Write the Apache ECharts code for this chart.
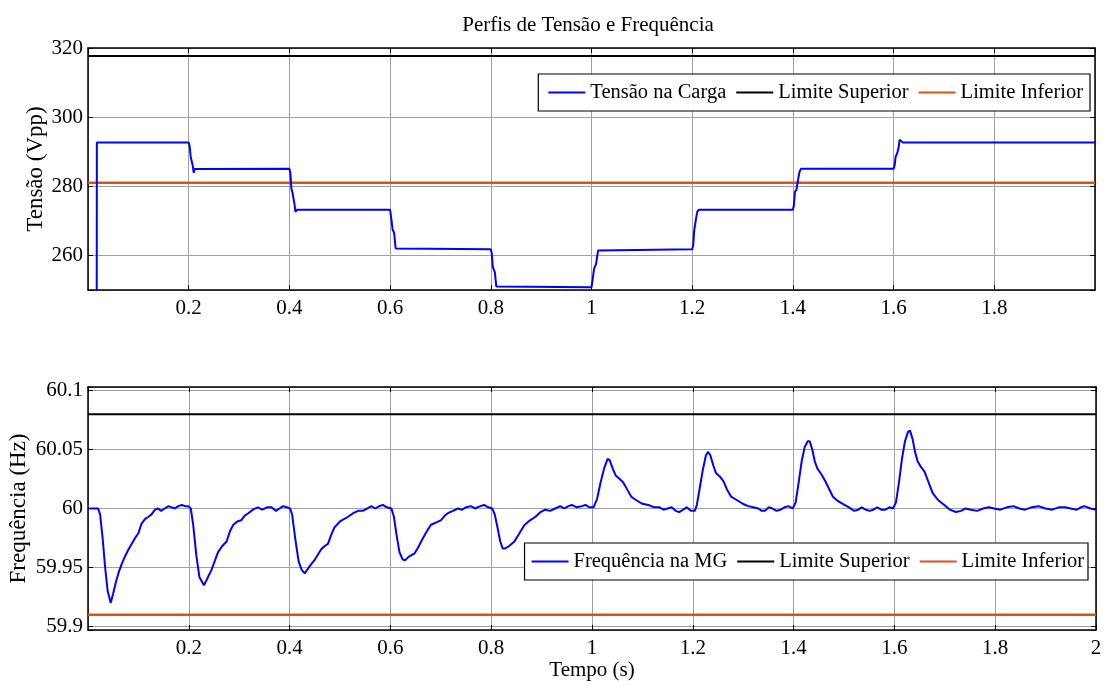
<!DOCTYPE html>
<html>
<head>
<meta charset="utf-8">
<script src="https://cdn.jsdelivr.net/npm/echarts@6/dist/echarts.min.js"></script>
<style>
  html, body { margin: 0; padding: 0; background: #fff; }
  #chart { width: 1106px; height: 686px; }
</style>
</head>
<body>
<div id="chart"></div>
<script>
// Load voltage at the bus, [time (s), Vpp]
const tensaoCarga = [
  [0.0172, 230], [0.0176, 292.7], [0.200, 292.7], [0.202, 291.5], [0.204, 288.5], [0.206, 288.0],
  [0.208, 286.0], [0.210, 283.9], [0.212, 285.0], [0.215, 285.1], [0.400, 285.1], [0.402, 283.7],
  [0.404, 279.3], [0.406, 278.2], [0.408, 277.9], [0.410, 275.0], [0.412, 272.6], [0.415, 273.2],
  [0.600, 273.2], [0.602, 271.1], [0.605, 267.5], [0.608, 266.5], [0.611, 262.0], [0.614, 261.8],
  [0.800, 261.8], [0.802, 260.5], [0.804, 256.6], [0.808, 255.2], [0.811, 251.0], [0.813, 250.8],
  [1.000, 250.8], [1.002, 252.7], [1.005, 256.1], [1.009, 257.5], [1.013, 261.4], [1.016, 261.8],
  [1.200, 261.8], [1.202, 263.0], [1.204, 267.2], [1.207, 270.1], [1.210, 272.6], [1.213, 273.2],
  [1.400, 273.2], [1.402, 274.5], [1.404, 278.4], [1.407, 279.0], [1.410, 281.7], [1.413, 284.1],
  [1.416, 285.1], [1.600, 285.1], [1.602, 286.0], [1.604, 288.5], [1.607, 289.5], [1.610, 291.2],
  [1.612, 293.5], [1.615, 293.8], [1.618, 292.7], [2.000, 292.7]
];

// Microgrid frequency, [time (s), Hz]
const frequenciaMG = [
  [0.003, 60.000], [0.020, 60.000], [0.024, 59.995], [0.029, 59.975], [0.034, 59.950], [0.039, 59.930],
  [0.045, 59.920], [0.050, 59.928], [0.055, 59.937], [0.061, 59.946], [0.067, 59.953], [0.074, 59.960],
  [0.080, 59.965], [0.088, 59.971], [0.095, 59.976], [0.100, 59.979], [0.106, 59.987], [0.113, 59.991],
  [0.120, 59.993], [0.126, 59.995], [0.133, 59.999], [0.139, 60.000], [0.145, 59.998], [0.152, 60.000],
  [0.160, 60.002], [0.166, 60.001], [0.172, 60.000], [0.179, 60.002], [0.186, 60.003], [0.193, 60.002],
  [0.199, 60.002], [0.204, 60.000],
  [0.209, 59.985], [0.215, 59.960], [0.221, 59.942], [0.230, 59.935], [0.236, 59.940], [0.245, 59.948],
  [0.252, 59.956], [0.258, 59.963], [0.266, 59.968], [0.275, 59.972], [0.282, 59.981], [0.288, 59.986],
  [0.296, 59.989], [0.304, 59.990], [0.311, 59.994], [0.318, 59.996], [0.327, 59.999], [0.337, 60.001],
  [0.346, 59.999], [0.355, 60.001], [0.364, 60.001], [0.373, 59.998], [0.380, 60.000], [0.387, 60.002],
  [0.394, 60.001], [0.401, 60.000],
  [0.405, 59.995], [0.411, 59.975], [0.418, 59.955], [0.424, 59.948], [0.430, 59.945], [0.438, 59.950],
  [0.449, 59.956], [0.462, 59.965], [0.469, 59.968], [0.476, 59.970], [0.483, 59.978], [0.489, 59.984],
  [0.500, 59.989], [0.516, 59.993], [0.526, 59.996], [0.536, 59.998], [0.545, 59.998], [0.554, 60.000],
  [0.562, 60.002], [0.570, 60.000], [0.578, 60.002], [0.585, 60.003], [0.593, 60.001], [0.602, 60.000],
  [0.607, 59.993], [0.612, 59.978], [0.618, 59.963], [0.624, 59.957], [0.629, 59.956], [0.636, 59.959],
  [0.648, 59.962], [0.655, 59.967], [0.661, 59.972], [0.670, 59.979], [0.680, 59.986], [0.690, 59.988],
  [0.700, 59.990], [0.708, 59.994], [0.714, 59.996], [0.724, 59.998], [0.734, 60.000], [0.742, 59.999],
  [0.750, 60.001], [0.760, 60.002], [0.768, 60.000], [0.778, 60.002], [0.786, 60.003], [0.794, 60.001],
  [0.802, 60.000],
  [0.807, 59.995], [0.812, 59.985], [0.818, 59.972], [0.823, 59.966], [0.827, 59.966], [0.835, 59.968],
  [0.846, 59.972], [0.856, 59.979], [0.866, 59.986], [0.877, 59.990], [0.888, 59.993], [0.898, 59.997],
  [0.907, 59.999], [0.917, 59.998], [0.927, 60.000], [0.937, 60.002], [0.945, 60.000], [0.953, 60.002],
  [0.960, 60.003], [0.970, 60.001], [0.980, 60.002], [0.987, 60.003], [0.995, 60.001], [1.003, 60.001],
  [1.010, 60.008], [1.017, 60.022], [1.024, 60.034], [1.031, 60.042], [1.035, 60.041], [1.041, 60.034],
  [1.047, 60.028], [1.055, 60.025], [1.062, 60.022], [1.070, 60.016], [1.078, 60.010], [1.088, 60.007],
  [1.100, 60.004], [1.112, 60.003], [1.124, 60.001], [1.134, 60.001], [1.142, 59.999], [1.150, 60.000],
  [1.158, 60.001], [1.166, 59.998], [1.173, 59.997], [1.181, 59.999], [1.188, 60.001], [1.196, 59.998],
  [1.204, 59.998],
  [1.208, 60.003], [1.214, 60.018], [1.220, 60.033], [1.226, 60.045], [1.230, 60.048], [1.235, 60.045],
  [1.241, 60.036], [1.246, 60.030], [1.254, 60.027], [1.261, 60.023], [1.268, 60.016], [1.276, 60.010],
  [1.288, 60.007], [1.299, 60.004], [1.310, 60.002], [1.320, 60.001], [1.330, 60.000], [1.337, 59.998],
  [1.343, 59.998], [1.351, 60.001], [1.358, 60.000], [1.366, 59.998], [1.374, 59.999], [1.382, 60.001],
  [1.390, 60.002], [1.398, 60.000],
  [1.404, 60.005], [1.410, 60.022], [1.416, 60.040], [1.422, 60.052], [1.428, 60.057], [1.432, 60.057],
  [1.437, 60.050], [1.442, 60.040], [1.447, 60.034], [1.455, 60.029], [1.462, 60.024], [1.470, 60.017],
  [1.478, 60.010], [1.489, 60.006], [1.501, 60.003], [1.510, 60.001], [1.520, 59.998], [1.528, 59.999],
  [1.535, 60.001], [1.543, 59.999], [1.551, 59.998], [1.558, 59.999], [1.566, 60.001], [1.574, 59.999],
  [1.582, 59.999], [1.590, 60.001], [1.597, 60.000],
  [1.603, 60.005], [1.609, 60.022], [1.615, 60.042], [1.621, 60.057], [1.627, 60.065], [1.631, 60.066],
  [1.636, 60.059], [1.641, 60.048], [1.646, 60.040], [1.653, 60.035], [1.660, 60.031], [1.668, 60.022],
  [1.676, 60.013], [1.687, 60.007], [1.699, 60.003], [1.710, 59.999], [1.722, 59.997], [1.732, 59.998],
  [1.741, 60.000], [1.752, 59.999], [1.764, 59.998], [1.776, 60.000], [1.787, 60.001], [1.798, 60.000],
  [1.810, 59.999], [1.823, 60.001], [1.836, 60.002], [1.848, 60.000], [1.859, 59.999], [1.872, 60.001],
  [1.886, 60.002], [1.900, 60.000], [1.913, 59.999], [1.926, 60.001], [1.939, 60.001], [1.950, 60.000],
  [1.962, 59.999], [1.970, 60.001], [1.977, 60.002], [1.989, 60.000], [2.000, 59.999]
];

// Operating limits
const tensaoLimites = { superior: 317.7, inferior: 281.0 };
const freqLimites = { superior: 60.08, inferior: 59.91 };
const tempoExtremos = [0, 2];

// Tick labels
const tensaoTicks = [260, 280, 300, 320];
const freqTicks = ['59.9', '59.95', '60', '60.05', '60.1'];

const FONT = "'Liberation Serif', 'Times New Roman', serif";
const COR_TENSAO = '#0000ff';
const COR_SUP = '#000000';
const COR_INF = '#d95319';

function limite(valor) {
  return tempoExtremos.map(t => [t, valor]);
}

const gridLine = { show: true, lineStyle: { color: '#a0a0a0', width: 1 } };
const axisLine = { show: true, onZero: false, lineStyle: { color: '#000', width: 1.5 } };
const ticksIn = { show: true, inside: true, length: 5, lineStyle: { color: '#000', width: 1 } };
const labelBase = { color: '#000', fontFamily: FONT, fontSize: 21 };

function xBottom(gridIndex, showMax, extra) {
  return Object.assign({
    type: 'value', gridIndex, min: 0, max: 2, interval: 0.2,
    axisLine, axisTick: ticksIn, splitLine: gridLine,
    axisLabel: Object.assign({}, labelBase, {
      margin: 8, showMinLabel: false, showMaxLabel: showMax,
      formatter: v => String(+v.toFixed(1))
    })
  }, extra || {});
}
function xTop(gridIndex) {
  return {
    type: 'value', gridIndex, position: 'top', min: 0, max: 2, interval: 0.2,
    axisLine, axisTick: ticksIn, axisLabel: { show: false }, splitLine: { show: false }
  };
}

const legendIcon = 'path://M0,0 L40,0 L40,2 L0,2 Z';
function legendBox(top, right, names, padding) {
  return {
    top, right, orient: 'horizontal',
    data: names, icon: legendIcon, itemWidth: 37, itemHeight: 2, itemGap: 10,
    backgroundColor: '#fff', borderColor: '#000', borderWidth: 1.2, borderRadius: 0,
    padding, selectedMode: false,
    textStyle: { color: '#000', fontFamily: FONT, fontSize: 20.5, padding: [0, 0, 0, 0] }
  };
}

const option = {
  animation: false,
  backgroundColor: '#fff',
  title: {
    text: 'Perfis de Tensão e Frequência',
    left: 583, textAlign: 'center', top: 10,
    textStyle: { color: '#000', fontFamily: FONT, fontSize: 21, fontWeight: 'normal' }
  },
  grid: [
    { left: 88, right: 11, top: 48, height: 242, outerBoundsMode: 'none', containLabel: false },
    { left: 88, right: 10, top: 387, height: 243, outerBoundsMode: 'none', containLabel: false }
  ],
  legend: [
    Object.assign(legendBox(74, 16, ['Tensão na Carga', 'Limite Superior', 'Limite Inferior'], [8, 7, 8, 10]), { id: 'lg0' }),
    Object.assign(legendBox(543, 18, ['Frequência na MG', 'Limite Superior', 'Limite Inferior'], [8, 4, 8, 7]), { id: 'lg1' })
  ],
  xAxis: [
    xBottom(0, false),
    xTop(0),
    xBottom(1, true, {
      name: 'Tempo (s)', nameLocation: 'middle', nameGap: 29,
      nameTextStyle: { color: '#000', fontFamily: FONT, fontSize: 21 }
    }),
    xTop(1)
  ],
  yAxis: [
    {
      type: 'value', gridIndex: 0, min: 250, max: 320, splitNumber: 3,
      axisLine, axisTick: ticksIn, splitLine: gridLine,
      axisLabel: Object.assign({}, labelBase, {
        margin: 5,
        formatter: v => tensaoTicks.indexOf(Math.round(v)) >= 0 && Math.abs(v - Math.round(v)) < 1e-6 ? String(Math.round(v)) : ''
      }),
      name: 'Tensão (Vpp)', nameLocation: 'middle', nameGap: 41, nameMoveOverlap: false,
      nameTextStyle: { color: '#000', fontFamily: FONT, fontSize: 23 }
    },
    {
      type: 'value', gridIndex: 0, position: 'right', min: 250, max: 320, splitNumber: 3,
      axisLine, axisTick: ticksIn, axisLabel: { show: false }, splitLine: { show: false }
    },
    {
      type: 'value', gridIndex: 1, min: 59.897, max: 60.103, splitNumber: 5,
      axisLine, axisTick: ticksIn, splitLine: gridLine,
      axisLabel: Object.assign({}, labelBase, {
        margin: 5,
        formatter: v => {
          const s = String(+v.toFixed(3));
          return freqTicks.indexOf(s) >= 0 ? s : '';
        }
      }),
      name: 'Frequência (Hz)', nameLocation: 'middle', nameGap: 58, nameMoveOverlap: false,
      nameTextStyle: { color: '#000', fontFamily: FONT, fontSize: 23 }
    },
    {
      type: 'value', gridIndex: 1, position: 'right', min: 59.897, max: 60.103, splitNumber: 5,
      axisLine, axisTick: ticksIn, axisLabel: { show: false }, splitLine: { show: false }
    }
  ],
  series: [
    {
      name: 'Tensão na Carga', type: 'line', xAxisIndex: 0, yAxisIndex: 0,
      data: tensaoCarga, showSymbol: false, lineStyle: { color: COR_TENSAO, width: 2 },
      itemStyle: { color: COR_TENSAO }, z: 4
    },
    {
      name: 'Limite Superior', type: 'line', xAxisIndex: 0, yAxisIndex: 0,
      data: limite(tensaoLimites.superior), showSymbol: false,
      lineStyle: { color: COR_SUP, width: 2 }, itemStyle: { color: COR_SUP }, z: 3
    },
    {
      name: 'Limite Inferior', type: 'line', xAxisIndex: 0, yAxisIndex: 0,
      data: limite(tensaoLimites.inferior), showSymbol: false,
      lineStyle: { color: COR_INF, width: 2.5 }, itemStyle: { color: COR_INF }, z: 3
    },
    {
      name: 'Frequência na MG', type: 'line', xAxisIndex: 2, yAxisIndex: 2,
      data: frequenciaMG, showSymbol: false, lineStyle: { color: COR_TENSAO, width: 2 },
      itemStyle: { color: COR_TENSAO }, z: 4
    },
    {
      name: 'Limite Superior', type: 'line', xAxisIndex: 2, yAxisIndex: 2,
      data: limite(freqLimites.superior), showSymbol: false,
      lineStyle: { color: COR_SUP, width: 2 }, itemStyle: { color: COR_SUP }, z: 3
    },
    {
      name: 'Limite Inferior', type: 'line', xAxisIndex: 2, yAxisIndex: 2,
      data: limite(freqLimites.inferior), showSymbol: false,
      lineStyle: { color: COR_INF, width: 2.5 }, itemStyle: { color: COR_INF }, z: 3
    }
  ]
};

const chart = echarts.init(document.getElementById('chart'), null, { renderer: 'canvas' });
chart.setOption(option);
</script>
</body>
</html>
